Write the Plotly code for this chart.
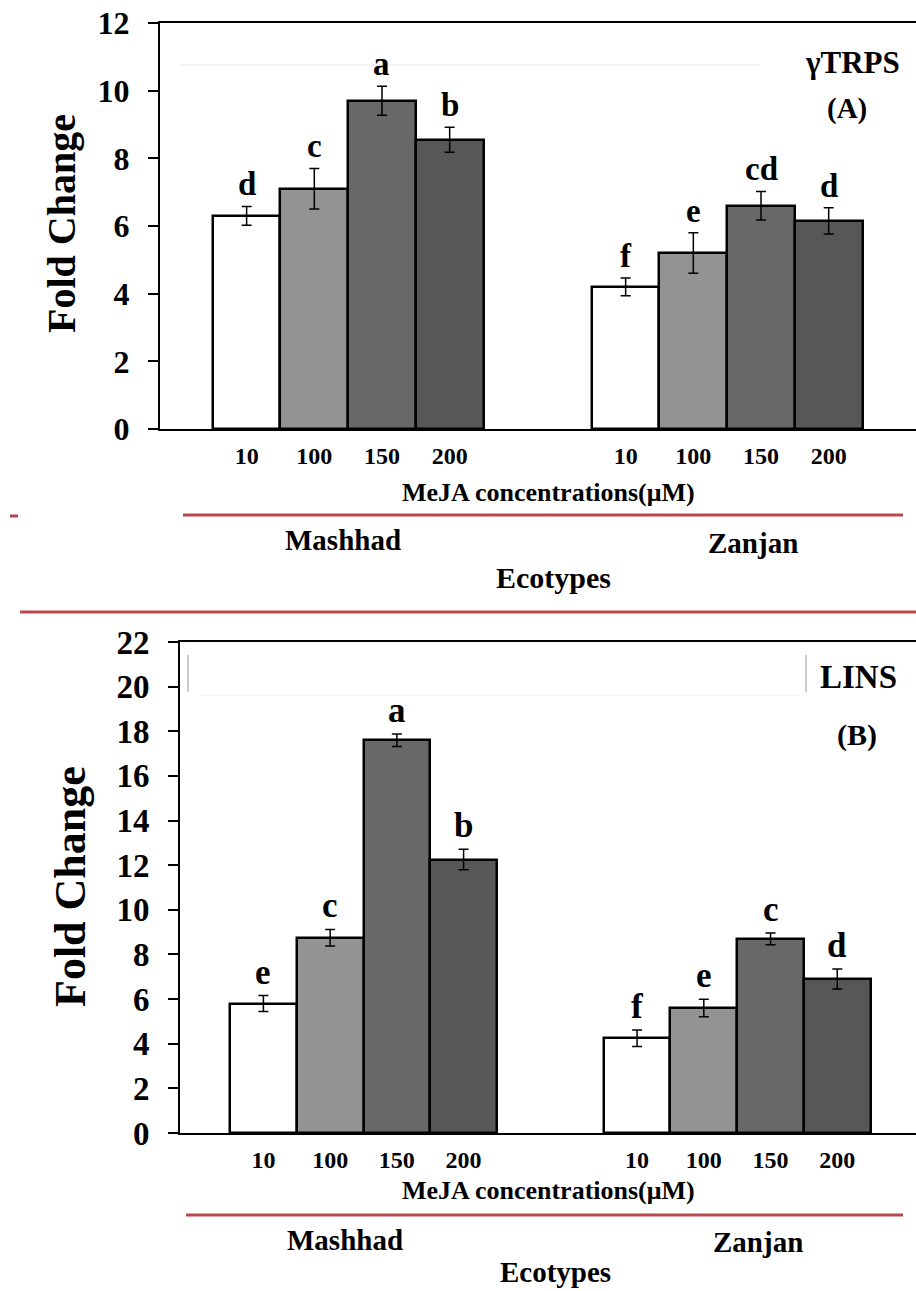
import plotly.graph_objects as go

# ---------------- data ----------------
concentrations = ["10", "100", "150", "200"]
ecotypes = ["Mashhad", "Zanjan"]

trps_mashhad = [6.30, 7.10, 9.70, 8.55]
trps_zanjan = [4.20, 5.20, 6.60, 6.15]
trps_err_mashhad = [0.28, 0.60, 0.43, 0.37]
trps_err_zanjan = [0.26, 0.60, 0.42, 0.39]
trps_letters_mashhad = ["d", "c", "a", "b"]
trps_letters_zanjan = ["f", "e", "cd", "d"]

lins_mashhad = [5.80, 8.75, 17.60, 12.25]
lins_zanjan = [4.25, 5.60, 8.70, 6.90]
lins_err_mashhad = [0.36, 0.37, 0.28, 0.46]
lins_err_zanjan = [0.37, 0.39, 0.26, 0.45]
lins_letters_mashhad = ["e", "c", "a", "b"]
lins_letters_zanjan = ["f", "e", "c", "d"]

# ---------------- style ----------------
W, H = 916, 1291
FONT = "Liberation Serif, Times New Roman, serif"
bar_colors = ["#ffffff", "#939393", "#686868", "#575757"]
RED = "#b9474d"
GROUP_GAP = 5.6  # offset of second ecotype group (in bar widths)


def px(x):
    return x / W


def py(y):
    return 1 - y / H


positions_m = [i for i in range(len(concentrations))]
positions_z = [i + GROUP_GAP for i in range(len(concentrations))]

fig = go.Figure()

panels = [
    dict(xa="x", ya="y", m=trps_mashhad, z=trps_zanjan, em=trps_err_mashhad, ez=trps_err_zanjan,
         lm=trps_letters_mashhad, lz=trps_letters_zanjan, lfont=33),
    dict(xa="x2", ya="y2", m=lins_mashhad, z=lins_zanjan, em=lins_err_mashhad, ez=lins_err_zanjan,
         lm=lins_letters_mashhad, lz=lins_letters_zanjan, lfont=35),
]

annotations = []
for p in panels:
    for i, c in enumerate(concentrations):
        fig.add_trace(go.Bar(
            x=[positions_m[i], positions_z[i]],
            y=[p["m"][i], p["z"][i]],
            width=1.0,
            xaxis=p["xa"], yaxis=p["ya"],
            marker=dict(color=bar_colors[i], line=dict(color="black", width=2.5)),
            error_y=dict(type="data", array=[p["em"][i], p["ez"][i]], color="black",
                         thickness=1.5, width=5),
            showlegend=False, name=c,
        ))
        for xpos, val, err, lab in [(positions_m[i], p["m"][i], p["em"][i], p["lm"][i]),
                                    (positions_z[i], p["z"][i], p["ez"][i], p["lz"][i])]:
            annotations.append(dict(
                x=xpos, y=val + err, xref=p["xa"], yref=p["ya"], text=lab, showarrow=False,
                yanchor="bottom", xanchor="center", yshift=2,
                font=dict(family=FONT, size=p["lfont"], color="black", weight="bold"),
            ))


def text(x, y, s, size, angle=0, yanchor="middle"):
    annotations.append(dict(
        x=px(x), y=py(y), xref="paper", yref="paper", text=s, showarrow=False,
        xanchor="center", yanchor=yanchor, textangle=angle,
        font=dict(family=FONT, size=size, color="black", weight="bold"),
    ))


# panel A texts
text(62, 224, "Fold Change", 40, -90)
text(852, 63, "γTRPS", 31)
text(847, 108, "(A)", 29)
text(548, 492, "MeJA concentrations(μM)", 26)
text(343, 540, "Mashhad", 29)
text(753, 543, "Zanjan", 29)
text(553, 577, "Ecotypes", 30)

# panel B texts
text(71, 887, "Fold Change", 44, -90)
text(858, 677, "LINS", 33)
text(857, 735, "(B)", 30)
text(548, 1190, "MeJA concentrations(μM)", 26)
text(345, 1240, "Mashhad", 29)
text(758, 1242, "Zanjan", 29)
text(555, 1290, "Ecotypes", 29, yanchor="bottom")

shapes = [
    dict(type="line", xref="paper", yref="paper", x0=px(183), x1=px(903), y0=py(515), y1=py(515),
         line=dict(color=RED, width=3)),
    dict(type="line", xref="paper", yref="paper", x0=px(10), x1=px(18), y0=py(516), y1=py(516),
         line=dict(color=RED, width=3)),
    dict(type="line", xref="paper", yref="paper", x0=px(20), x1=px(916), y0=py(612), y1=py(612),
         line=dict(color=RED, width=3)),
    dict(type="line", xref="paper", yref="paper", x0=px(186), x1=px(903), y0=py(1215), y1=py(1215),
         line=dict(color=RED, width=3)),
    # faint artefacts
    dict(type="line", xref="paper", yref="paper", x0=px(180), x1=px(760), y0=py(65), y1=py(65),
         line=dict(color="#ececec", width=1)),
    dict(type="line", xref="paper", yref="paper", x0=px(188), x1=px(188), y0=py(655), y1=py(692),
         line=dict(color="#999999", width=1)),
    dict(type="line", xref="paper", yref="paper", x0=px(806), x1=px(806), y0=py(655), y1=py(692),
         line=dict(color="#999999", width=1)),
    dict(type="line", xref="paper", yref="paper", x0=px(200), x1=px(800), y0=py(695), y1=py(695),
         line=dict(color="#f0f0f0", width=1)),
]

tickvals = positions_m + positions_z
ticktext = concentrations + concentrations

xcommon = dict(showline=True, linecolor="black", linewidth=2, mirror=True, showgrid=False,
               zeroline=False, tickvals=tickvals, ticktext=ticktext, ticks="", ticklen=0,
               ticklabelstandoff=4, automargin=False,
               tickfont=dict(family=FONT, size=24, color="black", weight="bold"))
ycommon = dict(showline=True, linecolor="black", linewidth=2, showgrid=False, zeroline=False,
               ticks="outside", ticklen=10, tickwidth=2, tickcolor="black",
               ticklabelstandoff=12, automargin=False)

fig.update_layout(
    template="none",
    width=W, height=H,
    margin=dict(l=0, r=0, t=0, b=0, pad=0, autoexpand=False),
    paper_bgcolor="white", plot_bgcolor="white",
    barmode="overlay", bargap=0,
    showlegend=False,
    xaxis=dict(domain=[px(160), 1.0], range=[-1.28, 9.89], anchor="y", **xcommon),
    yaxis=dict(domain=[py(429), py(23)], range=[0, 12], dtick=2, anchor="x",
               tickfont=dict(family=FONT, size=32, color="black", weight="bold"), **ycommon),
    xaxis2=dict(domain=[px(180), 1.0], range=[-1.25, 9.78], anchor="y2", **xcommon),
    yaxis2=dict(domain=[py(1133), py(642)], range=[0, 22], dtick=2, anchor="x2",
                tickfont=dict(family=FONT, size=33, color="black", weight="bold"), **ycommon),
    annotations=annotations,
    shapes=shapes,
)

fig.write_html("out.html", config={"displayModeBar": False},
               post_script="document.body.style.margin='0';")
